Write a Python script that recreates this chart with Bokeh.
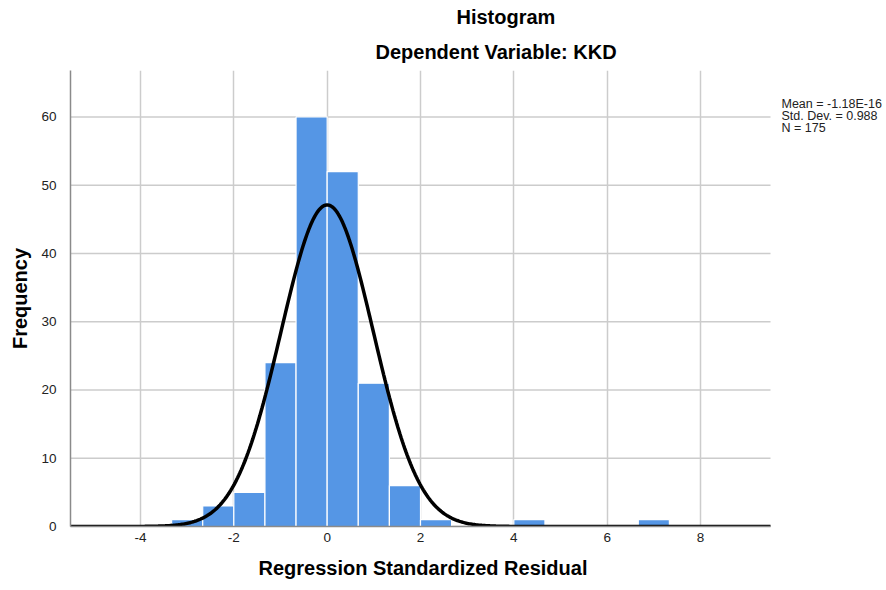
import numpy as np
from bokeh.plotting import figure
from bokeh.models import Range1d, FixedTicker, Title, Label
from bokeh.embed import file_html
from bokeh.resources import INLINE

# Histogram data (bin edges of width 2/3)
bin_left = [-10/3, -8/3, -2, -4/3, -2/3, 0, 2/3, 4/3, 2, 4, 20/3]
bin_right = [-8/3, -2, -4/3, -2/3, 0, 2/3, 4/3, 2, 8/3, 14/3, 22/3]
counts = [1, 3, 5, 24, 60, 52, 21, 6, 1, 1, 1]

mean = -1.18e-16
std = 0.988
n = 175
bin_width = 2/3
stats_text = ["Mean = -1.18E-16", "Std. Dev. = 0.988", "N = 175"]

x_ticks = [-4, -2, 0, 2, 4, 6, 8]
y_ticks = [0, 10, 20, 30, 40, 50, 60]

X_MIN, X_MAX = -5.5, 9.5     # plotted axis extent
Y_MAX = 66.8
PX_PER_UNIT = 700 / (X_MAX - X_MIN)
X_CANVAS_END = X_MIN + 816 / PX_PER_UNIT   # frame continues under the stats text

FONT = "Liberation Sans"

p = figure(width=886, height=590, output_backend="svg", toolbar_location=None,
           x_range=Range1d(X_MIN, X_CANVAS_END), y_range=Range1d(0, Y_MAX),
           min_border_left=70, min_border_right=0, min_border_top=70, min_border_bottom=64)
p.outline_line_color = None
p.background_fill_color = "white"

p.xaxis.ticker = FixedTicker(ticks=x_ticks)
p.yaxis.ticker = FixedTicker(ticks=y_ticks)
p.xaxis.major_label_overrides = {t: str(t) for t in x_ticks}
p.xaxis.bounds = (X_MIN, X_MAX)
for ax in (p.xaxis[0], p.yaxis[0]):
    ax.major_tick_line_color = None
    ax.minor_tick_line_color = None
    ax.major_label_text_font = FONT
    ax.major_label_text_font_size = "13.5px"
    ax.major_label_text_color = "#222222"
    ax.axis_label_text_font = FONT
    ax.axis_label_text_font_style = "bold"
    ax.axis_label_text_font_size = "20px"
    ax.axis_label_text_color = "black"
    ax.axis_line_color = "#8a8a8a"
    ax.axis_line_width = 1.5
p.yaxis.axis_label = "Frequency"
p.xaxis.major_label_standoff = 0
p.yaxis.major_label_standoff = 8
p.yaxis.axis_label_standoff = 7

# x-axis title centred under the plotted axis extent (not the whole frame)
p.add_layout(Title(text="Regression Standardized Residual", align="left", offset=188, standoff=20,
                   text_font=FONT, text_font_style="bold", text_font_size="20px",
                   text_color="black"), "below")

# vertical grid lines via the grid; horizontal ones stop at the plot's right edge
p.xgrid.ticker = FixedTicker(ticks=x_ticks)
p.xgrid.grid_line_color = "#cccccc"
p.xgrid.grid_line_width = 1.5
p.ygrid.visible = False
p.segment(x0=X_MIN, x1=X_MAX, y0=y_ticks, y1=y_ticks, line_color="#cccccc", line_width=1.5)

p.quad(left=bin_left, right=bin_right, bottom=0, top=counts,
       fill_color="#5596e5", line_color="white", line_width=1.2)

xs = np.linspace(X_MIN, X_MAX, 600)
ys = n * bin_width * np.exp(-0.5 * ((xs - mean) / std) ** 2) / (std * np.sqrt(2 * np.pi))
p.line(xs, ys, line_color="black", line_width=3.5)

p.add_layout(Title(text="Dependent Variable: KKD", align="left", offset=305, standoff=16,
                   text_font=FONT, text_font_style="bold", text_font_size="20px",
                   text_color="black"), "above")
p.add_layout(Title(text="Histogram", align="left", offset=386, standoff=6,
                   text_font=FONT, text_font_style="bold", text_font_size="20px",
                   text_color="black"), "above")

stats_y = [61.9, 60.1, 58.4]
for yy, t in zip(stats_y, stats_text):
    p.add_layout(Label(x=X_MAX + 11 / PX_PER_UNIT, y=yy, text=t,
                       text_align="left", text_baseline="middle",
                       text_font=FONT, text_font_size="12.5px", text_color="#222222"))

open("out.html", "w").write(file_html(p, INLINE))
